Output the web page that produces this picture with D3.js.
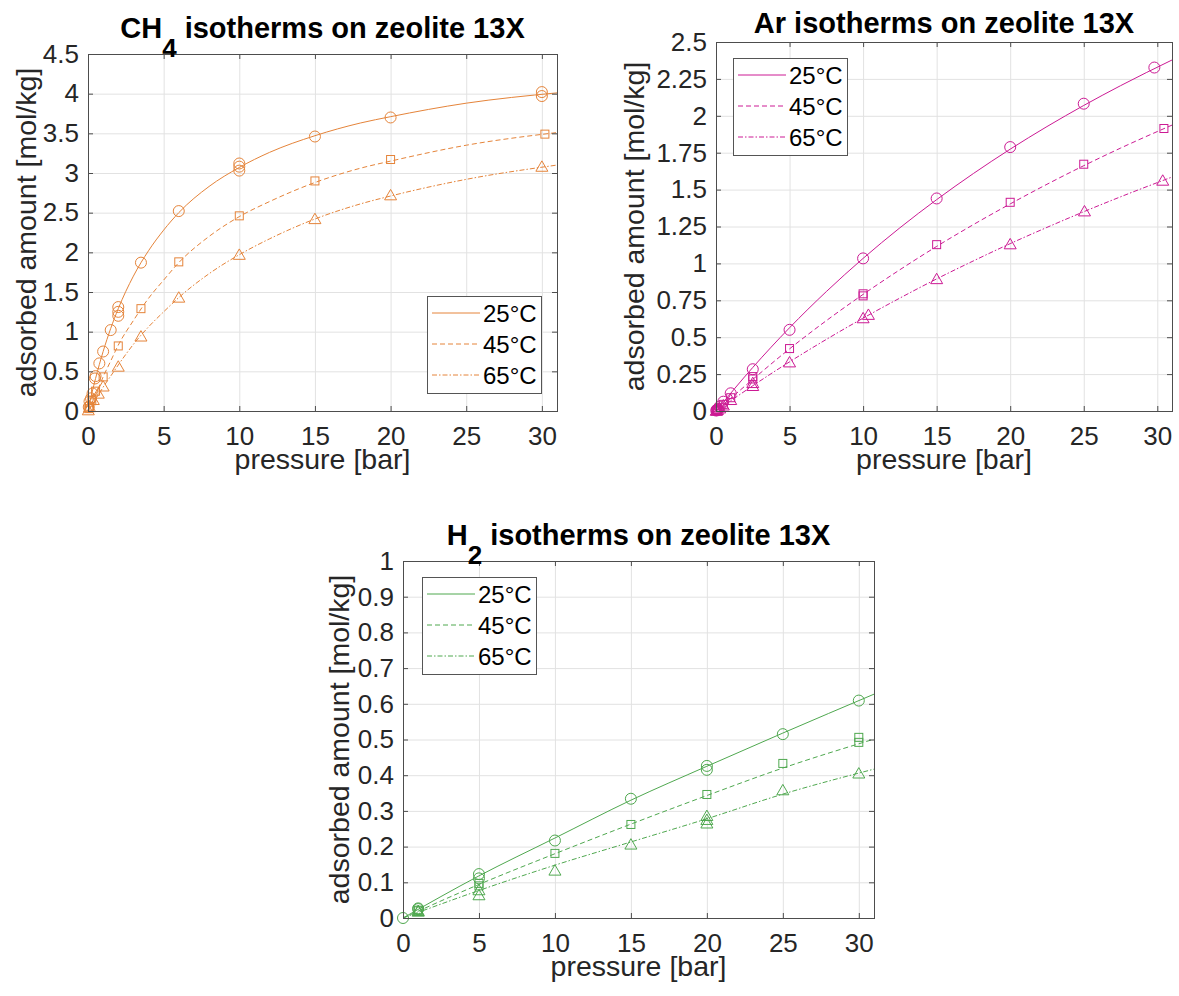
<!DOCTYPE html>
<html>
<head>
<meta charset="utf-8">
<script src="https://cdn.jsdelivr.net/npm/d3@7"></script>
<style>
  body { margin: 0; background: #fff; }
</style>
</head>
<body>
<svg id="fig"></svg>
<script>
// shared axis / legend values
const pressureTicks = [0, 5, 10, 15, 20, 25, 30];
const tempLabels = ["25°C", "45°C", "65°C"];

// ---- CH4 ----
const ch4Ticks = [0, 0.5, 1, 1.5, 2, 2.5, 3, 3.5, 4, 4.5];
const ch4P25 = [0.05, 0.1, 0.2, 0.3, 0.46, 0.5, 0.75, 1.0, 1.5, 2.0, 2.0, 2.0, 3.5, 6, 10, 10, 10, 15, 20, 30, 30];
const ch4Q25 = [0.05, 0.12, 0.16, 0.22, 0.41, 0.44, 0.60, 0.75, 1.02, 1.20, 1.25, 1.31, 1.87, 2.52, 3.03, 3.08, 3.12, 3.46, 3.70, 3.97, 4.02];
const ch4P45 = [0.05, 0.1, 0.25, 0.5, 1.0, 2.0, 3.5, 6, 10, 15, 20, 30.2];
const ch4Q45 = [0.03, 0.06, 0.13, 0.25, 0.43, 0.82, 1.29, 1.88, 2.46, 2.90, 3.17, 3.49];
const ch4P65 = [0.02, 0.1, 0.35, 0.68, 1.0, 2.0, 3.5, 6, 10, 15, 20, 30];
const ch4Q65 = [0.01, 0.05, 0.14, 0.22, 0.31, 0.56, 0.94, 1.43, 1.97, 2.42, 2.72, 3.08];
// fitted curves
const ch4FitP  = [0, 0.25, 0.5, 1, 1.5, 2, 3, 4, 5, 6, 8, 10, 12, 15, 18, 20, 25, 31];
const ch4Fit25 = [0, 0.22, 0.41, 0.75, 1.04, 1.29, 1.70, 2.02, 2.28, 2.50, 2.83, 3.07, 3.26, 3.47, 3.63, 3.71, 3.88, 4.01];
const ch4Fit45 = [0, 0.10, 0.20, 0.43, 0.63, 0.83, 1.14, 1.42, 1.65, 1.87, 2.20, 2.45, 2.64, 2.88, 3.06, 3.15, 3.35, 3.51];
const ch4Fit65 = [0, 0.07, 0.14, 0.30, 0.44, 0.58, 0.84, 1.06, 1.25, 1.43, 1.73, 1.97, 2.17, 2.42, 2.61, 2.71, 2.92, 3.10];

// ---- Ar ----
const arTicks = [0, 0.25, 0.5, 0.75, 1, 1.25, 1.5, 1.75, 2, 2.25, 2.5];
const arP25 = [0.02, 0.05, 0.1, 0.25, 0.5, 1, 2.5, 5, 10, 15, 20, 25, 29.8];
const arQ25 = [0.003, 0.006, 0.012, 0.03, 0.063, 0.12, 0.283, 0.55, 1.034, 1.44, 1.788, 2.082, 2.327];
const arP45 = [0.02, 0.05, 0.1, 0.25, 0.5, 1, 2.5, 2.5, 5, 10, 10, 15, 20, 25, 30.45];
const arQ45 = [0.002, 0.005, 0.01, 0.022, 0.045, 0.09, 0.217, 0.233, 0.423, 0.78, 0.794, 1.127, 1.414, 1.672, 1.914];
const arP65 = [0.02, 0.05, 0.1, 0.25, 0.5, 1, 2.5, 2.5, 5, 10, 10.36, 15, 20, 25.05, 30.37];
const arQ65 = [0.002, 0.004, 0.008, 0.018, 0.038, 0.075, 0.17, 0.19, 0.33, 0.629, 0.652, 0.894, 1.13, 1.353, 1.561];
const arFitP  = [0, 2.5, 5, 7.5, 10, 12.5, 15, 17.5, 20, 22.5, 25, 27.5, 31];
const arFit25 = [0, 0.295, 0.564, 0.809, 1.034, 1.241, 1.432, 1.609, 1.774, 1.927, 2.07, 2.204, 2.378];
const arFit45 = [0, 0.214, 0.421, 0.612, 0.79, 0.957, 1.115, 1.263, 1.403, 1.536, 1.662, 1.781, 1.937];
const arFit65 = [0, 0.171, 0.333, 0.485, 0.629, 0.765, 0.895, 1.017, 1.134, 1.244, 1.35, 1.451, 1.585];

// ---- H2 ----
const h2Ticks = [0, 0.1, 0.2, 0.3, 0.4, 0.5, 0.6, 0.7, 0.8, 0.9, 1];
const h2P25 = [0, 1, 1, 5, 5, 10, 15, 20, 20, 25, 30];
const h2Q25 = [0, 0.027, 0.025, 0.123, 0.111, 0.217, 0.334, 0.426, 0.415, 0.515, 0.609];
const h2P45 = [1, 1, 5, 5, 10, 15, 20, 25, 30, 30];
const h2Q45 = [0.022, 0.02, 0.097, 0.09, 0.181, 0.262, 0.346, 0.433, 0.506, 0.492];
const h2P65 = [1, 1, 5, 5, 10, 15, 20, 20, 20, 25, 30];
const h2Q65 = [0.02, 0.018, 0.078, 0.064, 0.133, 0.206, 0.286, 0.275, 0.265, 0.358, 0.405];
const h2FitP  = [0, 5, 10, 15, 20, 25, 31];
const h2Fit25 = [0, 0.118, 0.224, 0.33, 0.425, 0.518, 0.627];
const h2Fit45 = [0, 0.094, 0.18, 0.263, 0.343, 0.42, 0.501];
const h2Fit65 = [0, 0.077, 0.148, 0.213, 0.278, 0.347, 0.417];

const zip = (a, b) => a.map((v, i) => [v, b[i]]);

var svg = d3.select("#fig")
    .attr("width", 1179)
    .attr("height", 996)
    .style("font-family", "'Liberation Sans', Arial, Helvetica, sans-serif");

svg.append("rect").attr("width", 1179).attr("height", 996).attr("fill", "#fff");

// line style + marker per temperature
var dashes = [null, "5,3", "5,2,1.5,2"];
var markers = ["circle", "square", "triangle"];

function drawMarker(sel, kind, color) {
    if (kind == "circle") {
        sel.append("circle").attr("r", 5.5);
    } else if (kind == "square") {
        sel.append("rect").attr("x", -4).attr("y", -4).attr("width", 8).attr("height", 8);
    } else {
        sel.append("path").attr("d", "M0,-5.8L6,4.6L-6,4.6Z");
    }
    sel.selectAll("*").attr("fill", "none").attr("stroke", color).attr("stroke-width", 1);
}

function panel(p) {
    var x = d3.scaleLinear().domain([0, 31]).range([p.left, p.right]);
    var y = d3.scaleLinear().domain([0, p.yTicks[p.yTicks.length - 1]]).range([p.bottom, p.top]);
    var w = p.right - p.left, h = p.bottom - p.top;
    var g = svg.append("g");

    //grid
    g.append("g")
        .attr("transform", "translate(0," + p.bottom + ")")
        .call(d3.axisBottom(x).tickValues(pressureTicks).tickSize(-h).tickFormat(""))
        .call(a => a.select(".domain").remove());
    g.append("g")
        .attr("transform", "translate(" + p.left + ",0)")
        .call(d3.axisLeft(y).tickValues(p.yTicks).tickSize(-w).tickFormat(""))
        .call(a => a.select(".domain").remove());
    g.selectAll(".tick line").attr("stroke", "#e2e2e2").attr("stroke-width", 1);

    //fitted lines
    var line = d3.line().x(d => x(d[0])).y(d => y(d[1])).curve(d3.curveMonotoneX);
    p.fits.forEach((f, i) => {
        g.append("path")
            .attr("d", line(zip(p.fitP, f)))
            .attr("fill", "none")
            .attr("stroke", p.color)
            .attr("stroke-width", 1)
            .attr("stroke-dasharray", dashes[i]);
    });

    //measured points
    p.points.forEach((pt, i) => {
        g.append("g").selectAll("g")
            .data(zip(pt[0], pt[1]))
            .enter()
            .append("g")
            .attr("transform", d => "translate(" + x(d[0]) + "," + y(d[1]) + ")")
            .each(function() { drawMarker(d3.select(this), markers[i], p.color); });
    });

    //axes with inward ticks
    var ax = svg.append("g").attr("class", "axes");
    ax.append("g").attr("transform", "translate(0," + p.bottom + ")")
        .call(d3.axisBottom(x).tickValues(pressureTicks).tickSizeInner(-5).tickSizeOuter(0).tickPadding(16));
    ax.append("g").attr("transform", "translate(0," + p.top + ")")
        .call(d3.axisTop(x).tickValues(pressureTicks).tickSizeInner(-5).tickSizeOuter(0).tickFormat(""));
    ax.append("g").attr("transform", "translate(" + p.left + ",0)")
        .call(d3.axisLeft(y).tickValues(p.yTicks).tickSizeInner(-5).tickSizeOuter(0).tickPadding(9).tickFormat(d => String(d)));
    ax.append("g").attr("transform", "translate(" + p.right + ",0)")
        .call(d3.axisRight(y).tickValues(p.yTicks).tickSizeInner(-5).tickSizeOuter(0).tickFormat(""));
    ax.selectAll(".domain").remove();
    ax.selectAll(".tick line").attr("stroke", "#4d4d4d");
    ax.selectAll(".tick text")
        .attr("font-size", 26)
        .attr("font-family", "'Liberation Sans', Arial, sans-serif")
        .attr("fill", "#262626");
    ax.append("rect")
        .attr("x", p.left + 0.5).attr("y", p.top + 0.5)
        .attr("width", w).attr("height", h)
        .attr("fill", "none").attr("stroke", "#4d4d4d").attr("stroke-width", 1);

    //labels
    svg.append("text")
        .attr("x", (p.left + p.right) / 2).attr("y", p.bottom + 58)
        .attr("text-anchor", "middle").attr("font-size", 28.5).attr("fill", "#262626")
        .text("pressure [bar]");
    svg.append("text")
        .attr("transform", "translate(" + (p.left - p.yLabOff) + "," + ((p.top + p.bottom) / 2) + ") rotate(-90)")
        .attr("text-anchor", "middle").attr("font-size", 28.5).attr("fill", "#262626")
        .text("adsorbed amount [mol/kg]");

    //title with subscript
    var t = svg.append("text")
        .attr("x", (p.left + p.right) / 2).attr("y", p.titleY)
        .attr("text-anchor", "middle").attr("font-size", 29).attr("font-weight", "bold").attr("fill", "#000");
    t.append("tspan").text(p.title[0]);
    if (p.title[1]) {
        t.append("tspan").attr("dy", 19).attr("font-size", 26).text(p.title[1]);
        t.append("tspan").attr("dy", -19).text(p.title[2]);
    } else {
        t.append("tspan").text(p.title[2]);
    }

    //legend
    var lg = svg.append("g").attr("transform", "translate(" + p.legX + "," + p.legY + ")");
    lg.append("rect")
        .attr("x", 0.5).attr("y", 0.5).attr("width", 114).attr("height", 97)
        .attr("fill", "#fff").attr("stroke", "#555").attr("stroke-width", 1);
    tempLabels.forEach((lab, i) => {
        lg.append("line")
            .attr("x1", 5).attr("x2", 53).attr("y1", 17 + i * 31).attr("y2", 17 + i * 31)
            .attr("stroke", p.color).attr("stroke-width", 1).attr("stroke-dasharray", dashes[i]);
        lg.append("text")
            .attr("x", 56).attr("y", 17 + i * 31 + 8.5)
            .attr("font-size", 24).attr("fill", "#000")
            .text(lab);
    });
}

panel({
    left: 88, right: 557, top: 54, bottom: 411,
    yTicks: ch4Ticks, color: "#e5843a", yLabOff: 52,
    title: ["CH", "4", " isotherms on zeolite 13X"], titleY: 38,
    fitP: ch4FitP, fits: [ch4Fit25, ch4Fit45, ch4Fit65],
    points: [[ch4P25, ch4Q25], [ch4P45, ch4Q45], [ch4P65, ch4Q65]],
    legX: 427, legY: 296
});

panel({
    left: 716, right: 1172, top: 42, bottom: 411,
    yTicks: arTicks, color: "#cc1a94", yLabOff: 72,
    title: ["Ar", null, " isotherms on zeolite 13X"], titleY: 33,
    fitP: arFitP, fits: [arFit25, arFit45, arFit65],
    points: [[arP25, arQ25], [arP45, arQ45], [arP65, arQ65]],
    legX: 733, legY: 58
});

panel({
    left: 403, right: 874, top: 561, bottom: 918,
    yTicks: h2Ticks, color: "#4fa84f", yLabOff: 54,
    title: ["H", "2", " isotherms on zeolite 13X"], titleY: 545,
    fitP: h2FitP, fits: [h2Fit25, h2Fit45, h2Fit65],
    points: [[h2P25, h2Q25], [h2P45, h2Q45], [h2P65, h2Q65]],
    legX: 422, legY: 577
});
</script>
</body>
</html>
